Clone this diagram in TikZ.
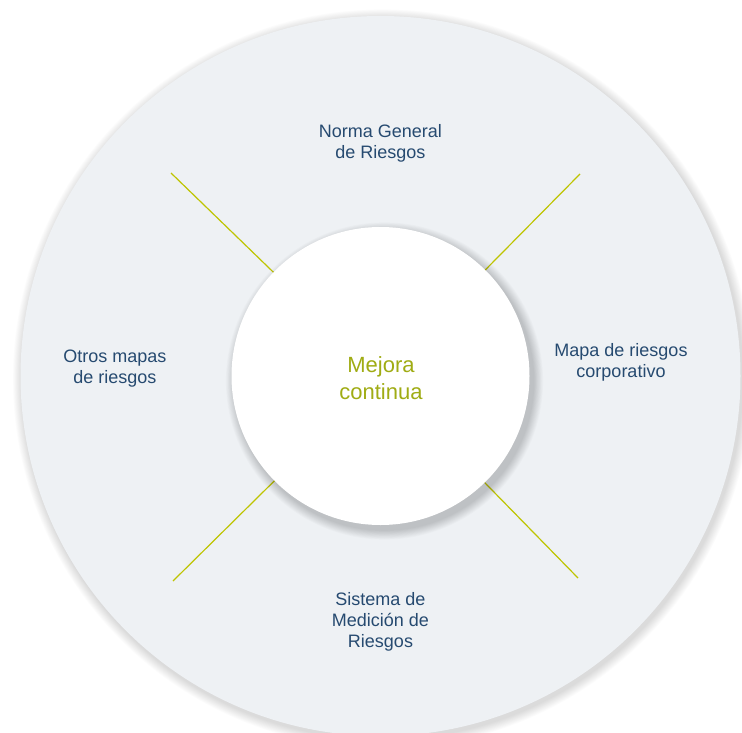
\documentclass[tikz,border=0pt]{standalone}
\usepackage{fontspec}
\setmainfont{Liberation Sans}
\definecolor{ringbg}{RGB}{238,241,244}
\definecolor{labelblue}{RGB}{38,74,112}
\definecolor{olive}{RGB}{160,172,20}
\definecolor{spoke}{RGB}{190,196,0}
\tikzset{
  lbl/.style={text=labelblue, align=center, font=\fontsize{18}{21}\selectfont, inner sep=0pt},
  spokeline/.style={draw=spoke, line width=1.2pt},
}
\begin{document}
\begin{tikzpicture}[x=1pt,y=-1pt]
\useasboundingbox (0,0) rectangle (742,733);
\fill[white] (0,0) rectangle (742,733);
% soft shadow of outer disc
\foreach \i in {1,...,12}{
  \fill[black, opacity=0.011] (382.5,379) circle ({360+\i*0.8});
}
\node[circle, fill=ringbg, minimum size=720pt, inner sep=0pt] (outer) at (380.5,376) {};
% spokes (outer ends)
\coordinate (tl) at (171,173);
\coordinate (tr) at (580,174);
\coordinate (bl) at (173,581);
\coordinate (br) at (578,578);
\coordinate (c) at (380.5,376);
\draw[spokeline] (c) -- (tl);
\draw[spokeline] (c) -- (tr);
\draw[spokeline] (c) -- (bl);
\draw[spokeline] (c) -- (br);
% soft shadow of inner disc
\foreach \i in {1,...,12}{
  \fill[black, opacity=0.014] (384.5,381) circle ({149+\i*0.8});
}
\node[circle, fill=white, minimum size=298pt, inner sep=0pt] (inner) at (380.5,376) {};
\node[text=olive, align=center, font=\fontsize{22}{27}\selectfont, inner sep=0pt] (mej) at (381,378) {Mejora\\continua};
% labels
\node[lbl] (norma) at (380.5,143) {Norma General\\de Riesgos};
\node[lbl] (mapa) at (621,362) {Mapa de riesgos\\corporativo};
\node[lbl] (otros) at (115,369) {Otros mapas\\de riesgos};
\node[lbl] (sist) at (380.5,622) {Sistema de\\Medición de\\Riesgos};
\end{tikzpicture}
\end{document}
